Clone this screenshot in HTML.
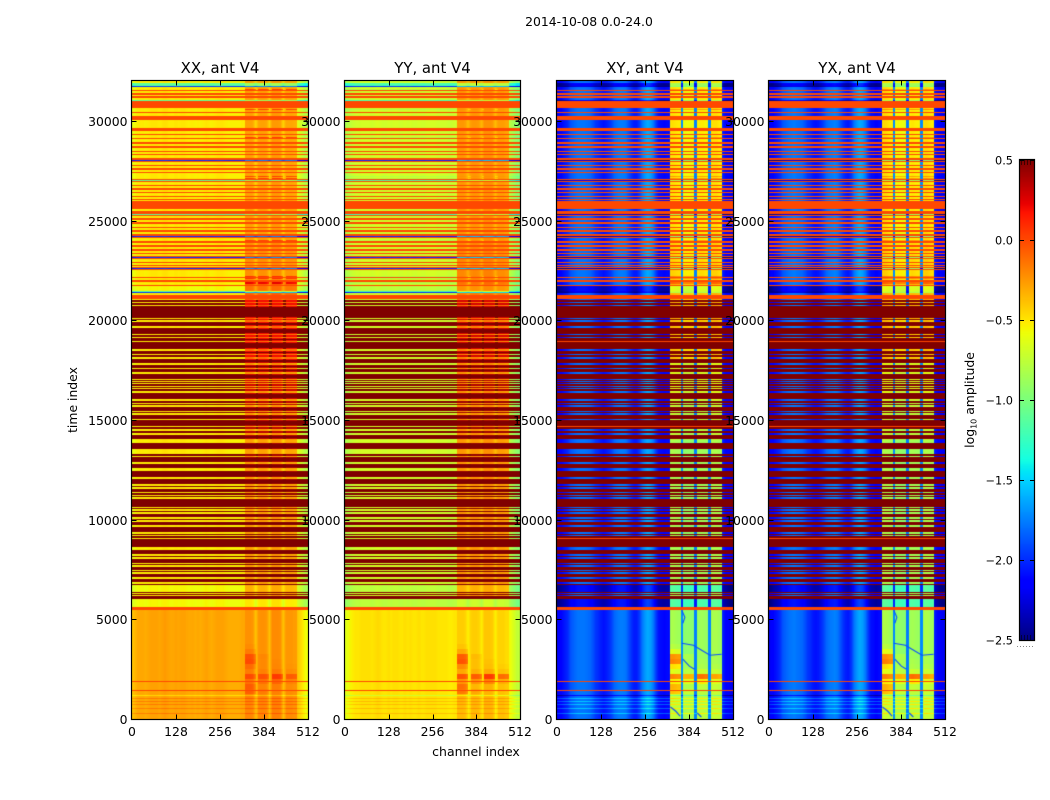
<!DOCTYPE html>
<html lang="en">
<head>
<meta charset="utf-8">
<title>2014-10-08 0.0-24.0</title>
<style>
html,body{margin:0;padding:0;background:#fff;}
#figure{position:relative;width:1050px;height:800px;background:#fff;overflow:hidden;}
canvas{position:absolute;display:block;}
#overlay{position:absolute;left:0;top:0;}
text{font-family:"DejaVu Sans","Liberation Sans",sans-serif;fill:#000;}
</style>
</head>
<body>
<div id="figure">
<svg id="overlay" width="1050" height="800" viewBox="0 0 1050 800">
<text x="589" y="26" font-size="12.4" text-anchor="middle">2014-10-08 0.0-24.0</text>
<text x="476" y="756" font-size="12.5" text-anchor="middle">channel index</text>
<text transform="translate(77,400) rotate(-90)" font-size="12.4" text-anchor="middle">time index</text>
<text transform="translate(974,400) rotate(-90)" font-size="12.4" text-anchor="middle">log<tspan font-size="8" dy="2.5">10</tspan><tspan dy="-2.5"> amplitude</tspan></text>
</svg>
</div>
<script>
// ---- chart data ----
const polarizations = ["XX", "YY", "XY", "YX"];
const channelTicks = [0, 128, 256, 384, 512];
const timeTicks = [0, 5000, 10000, 15000, 20000, 25000, 30000];
const colorbarTicks = [0.5, 0.0, -0.5, -1.0, -1.5, -2.0, -2.5];
const channelMax = [512];
const timeMax = [32000];
const colorRange = [-2.5, 0.5];

// log10 amplitude per 8-channel cell
const xxProfile = [-.62,-.58,-.53,-.52,-.52,-.54,-.52,-.5,-.5,-.5,-.52,-.5,-.48,-.5,-.52,-.52,-.5,-.52,-.5,-.5,-.52,-.53,-.52,-.54,-.52,-.54,-.52,-.5,-.52,-.54,-.52,-.5,-.5,-.5,-.52,-.54,-.54,-.54,-.54,-.54,-.52,-.28,-.28,-.28,-.3,-.45,-.3,-.28,-.28,-.3,-.43,-.26,-.26,-.26,-.28,-.45,-.3,-.3,-.3,-.32,-.6,-.66,-.72,-.8];
const yyProfile = [-.95,-.9,-.85,-.82,-.8,-.8,-.78,-.78,-.78,-.78,-.8,-.78,-.76,-.78,-.8,-.8,-.78,-.8,-.78,-.78,-.8,-.8,-.78,-.8,-.78,-.8,-.8,-.78,-.8,-.8,-.78,-.78,-.78,-.78,-.8,-.8,-.8,-.8,-.82,-.82,-.8,-.35,-.35,-.35,-.37,-.47,-.37,-.35,-.35,-.37,-.46,-.33,-.33,-.33,-.35,-.47,-.37,-.37,-.37,-.4,-.85,-.92,-.98,-1.05];
const xyProfile = [-2.2,-2.15,-2.1,-2.05,-2,-1.88,-1.84,-1.8,-1.78,-1.78,-1.78,-1.8,-1.82,-1.88,-1.96,-2,-2.05,-2.08,-2.05,-2,-1.92,-1.82,-1.78,-1.76,-1.76,-1.78,-1.88,-1.98,-2.05,-2.05,-1.95,-1.78,-1.68,-1.62,-1.66,-1.76,-1.95,-2.08,-2.1,-2.12,-2.1,-.85,-.83,-.85,-.87,-1.7,-.95,-.93,-.93,-.95,-1.75,-.9,-.87,-.87,-.9,-1.72,-.85,-.83,-.83,-.87,-2,-2.1,-2.15,-2.2];
const yxProfile = [-2.22,-2.16,-2.1,-2.06,-2,-1.88,-1.84,-1.8,-1.78,-1.76,-1.78,-1.8,-1.82,-1.88,-1.96,-2,-2.06,-2.08,-2.06,-2,-1.92,-1.82,-1.78,-1.76,-1.74,-1.78,-1.88,-1.98,-2.04,-2.06,-1.96,-1.78,-1.68,-1.62,-1.66,-1.76,-1.94,-2.08,-2.1,-2.14,-2.1,-.83,-.81,-.83,-.87,-1.72,-.95,-.91,-.93,-.95,-1.76,-.89,-.85,-.87,-.89,-1.72,-.85,-.81,-.83,-.87,-2.02,-2.1,-2.16,-2.2];

// drift of the bright sub-band per 2000 time indices (t = 0, 2000, ... 32000)
const xxBandDrift = [-.17,-.17,-.17,0,0,0,0,0,.02,.15,.2,.05,0,0,0,0,0];
const yyBandDrift = [-.37,-.37,-.37,0,0,0,0,0,0,.05,.1,.05,0,0,0,0,0];
const xyBandDrift = [0,0,0,0,0,0,0,.1,.2,.45,.5,.4,.35,.35,.35,.35,.35];
const yxBandDrift = [0,0,0,0,0,0,0,.1,.2,.45,.5,.4,.35,.35,.35,.35,.35];

// smeared level of saturated rows next to data rows inside the sub-bands, parallel hands
const xxDarkBand = [.5,.5,.5,.5,.5,.45,.4,.35,.3,.2,.2,.5,.5,.5,.5,.5,.5];
const yyDarkBand = [.5,.5,.5,.5,.5,.5,.45,.42,.38,.28,.28,.5,.5,.5,.5,.5,.5];

// extra brightness of each sub-band per 250 time indices at early times
const band1Boost = [.1,.1,.1,.12,.15,.45,.5,.3,.65,.2,.35,.65,.6,.2,.05,0];
const band2Boost = [.1,.1,.12,.12,.12,.2,.12,.3,.6,.15,.08,.08,.1,0,0,0];
const band3Boost = [.1,.1,.1,.1,.1,.1,.12,.35,.75,.15,.05,.03,0,0,0,0];
const band4Boost = [.1,.1,.1,.1,.1,.1,.1,.2,.55,.1,.03,0,0,0,0,0];
const boostScale = [.35, .6, 1, 1];

// per-row state, newest time first: state letter + number of rows
const rowRuns = ("n2 c3 b1 n2 r1 o1 n2 o2 n1 o2 n2 c1 o7 n1 r1 n2 o1 n3 o4 n8 o2 " +
"o1 n3 o1 n2 r1 o1 n3 o2 n2 o2 n3 o1 n2 o1 n3 o2 b1 o1 n3 o1 n2 o2 n2 o1 n3 r1 n1 r1 o1 c1 o1 n3 o1 n2 o2 n2 o1 n3 o1 n2 o1 n1 " +
"o8 n2 o3 c1 o1 n2 o2 n2 o2 n3 o1 n2 o2 n2 o2 b1 o1 n2 r1 o2 n2 o2 n2 o2 n2 o1 n2 o1 b1 o1 n3 o1 n2 o1 n1 o1 b1 o1 n6 r1 o1 r1 n1 o2 r2 n1 o1 m5 c1 b1 n2 o4 n1 " +
"d2 n1 d2 n1 d12 n1 d1 n2 d4 n2 d6 n1 d2 n1 d3 y1 d7 n2 d3 n1 d2 n2 d4 n2 d3 n1 d3 n2 d5 n1 d1 n1 d1 n1 d2 n1 d1 n1 d2 n2 d6 n2 d2 n1 d1 n2 d4 n1 d1 n2 d4 n1 d6 y1 d2 n2 d2 n2 d4 n4 d6 n5 d2 n1 d5 n2 d4 n3 d6 n2 d5 n2 d1 n2 d3 n1 d2 n1 d1 n2 d8 n1 d1 n2 d1 n2 d3 n2 d1 n2 d3 n2 d5 n2 d1 n1 d2 y1 d8 n3 d4 n2 d1 n2 d4 n1 d1 n2 d3 n1 d1 n2 d3 n2 d3 n2 d1 m7 d1 n1 d1 n1 d3 m8 o3 " +
"e71 o1 e8 o1 e4 g1 e2 s1 e2 s1 e2 s1 e3 s1 e4 s1 e5").split(" ");

// levels of saturated rows, in polarization order; null keeps the data value
const levelO = [0, 0, 0, 0];
const levelD = [.5, .5, .5, .5];
const levelY = [null, null, 0, 0];
// offsets of data rows, in polarization order
const offsetN = [0, .1, 0, 0];
const offsetM = [-.05, .02, -.3, -.3];
const offsetR = [.3, .12, .25, .25];
const offsetC = [-.6, -.4, -.35, -.35];
const offsetB = [-1.45, -1.2, -.45, -.45];
const offsetE = [.22, .3, 0, 0];
const offsetS = [.35, .42, .25, .25];
const offsetG = [.05, .1, -.3, -.3];

// dark fringe curves in the cross-hands: [channel, time index]
const fringeA = [[363,3800],[397,3700],[411,3550],[445,3200],[479,3250]];
const fringeB = [[363,5450],[372,5100],[366,4800]];
const fringeC = [[366,3000],[385,2650],[400,2500]];
const fringeD = [[330,600],[345,400],[358,150]];
const fringeE = [[408,300],[420,100]];

// ---- layout ----
const panelLefts = [132, 345, 557, 769];
const panelWidths = [176, 175, 176, 176];
const panelTop = 81, panelH = 638;
const cbLeft = 1020, cbTop = 160, cbW = 14, cbH = 480;

const profiles = [xxProfile, yyProfile, xyProfile, yxProfile];
const drifts = [xxBandDrift, yyBandDrift, xyBandDrift, yxBandDrift];
const darkBands = [xxDarkBand, yyDarkBand];
const boosts = [band1Boost, band2Boost, band3Boost, band4Boost];
const fixedLevels = {o: levelO, d: levelD, y: levelY};
const rowOffsets = {n: offsetN, m: offsetM, r: offsetR, c: offsetC, b: offsetB, e: offsetE, s: offsetS, g: offsetG};

const rowStates = [];
rowRuns.forEach(function (run) {
  const n = parseInt(run.slice(1), 10);
  for (let i = 0; i < n; i++) rowStates.push(run[0]);
});

function xScale(panel, ch) { return panelLefts[panel] + ch / channelMax[0] * panelWidths[panel]; }
function yScale(t) { return panelTop + panelH - t / timeMax[0] * panelH; }
function cbScale(v) { return cbTop + (colorRange[1] - v) / (colorRange[1] - colorRange[0]) * cbH; }

function piece(x, pts) {
  for (let i = 1; i < pts.length; i++) {
    if (x <= pts[i][0]) {
      const a = pts[i - 1], b = pts[i];
      return a[1] + (b[1] - a[1]) * (x - a[0]) / (b[0] - a[0]);
    }
  }
  return pts[pts.length - 1][1];
}
const jetR = [[0,0],[.35,0],[.66,1],[.89,1],[1,.5]];
const jetG = [[0,0],[.125,0],[.375,1],[.64,1],[.91,0],[1,0]];
const jetB = [[0,.5],[.11,1],[.34,1],[.65,0],[1,0]];
function jet(v) {
  let f = (v - colorRange[0]) / (colorRange[1] - colorRange[0]);
  f = Math.max(0, Math.min(1, f));
  return [piece(f, jetR) * 255, piece(f, jetG) * 255, piece(f, jetB) * 255];
}

function inBand(ch) {
  return ch >= 328 && ch < 480 && (ch - 328) % 40 < 32;
}
function baseValue(p, ch) {
  const prof = profiles[p];
  const pos = ch / 8;
  const i = Math.min(prof.length - 1, Math.floor(pos));
  const j = Math.min(prof.length - 1, i + 1);
  if (Math.abs(prof[i] - prof[j]) < 0.2) return prof[i] + (prof[j] - prof[i]) * (pos - i);
  return prof[i];
}
function cellValue(p, r, ch, t) {
  const state = rowStates[r];
  const cell = Math.min(profiles[p].length - 1, Math.floor(ch / 8)) * 8;
  const band = inBand(cell);
  const k = Math.min(drifts[p].length - 1, Math.floor(t / 2000));
  if (state === "d" && band && p < 2 && (rowStates[r - 1] !== "d" || rowStates[r + 1] !== "d")) {
    return darkBands[p][k];
  }
  const fixed = fixedLevels[state];
  if (fixed && fixed[p] !== null) return fixed[p];
  let v = baseValue(p, ch);
  const raw = profiles[p][cell / 8];
  const offs = rowOffsets[state] || offsetN;
  if (state !== "r" || band) v += offs[p];
  if (band || (p < 2 && cell >= 328 && cell < 480)) {
    if (p < 2 || raw > -1.4) v += drifts[p][k];
  }
  if (band && (state === "e" || state === "s" || state === "g")) {
    const tb = Math.floor(t / 250);
    const which = Math.floor((cell - 328) / 40);
    const series = boosts[which];
    if (tb < series.length) v += series[tb] * boostScale[p];
  }
  return v;
}

const figure = document.getElementById("figure");
const overlay = document.getElementById("overlay");
const NS = "http://www.w3.org/2000/svg";

function drawHeatmap(p) {
  const W = panelWidths[p];
  const cv = document.createElement("canvas");
  
  
  cv.width = W;
  cv.height = panelH;
  cv.style.left = panelLefts[p] + "px";
  cv.style.top = panelTop + "px";
  const ctx = cv.getContext("2d");
  const img = ctx.createImageData(W, panelH);
  const rowStep = timeMax[0] / rowStates.length;
  for (let r = 0; r < rowStates.length; r++) {
    const t = timeMax[0] - (r + 0.5) * rowStep;
    const y0 = Math.round(yScale(t + rowStep / 2) - panelTop);
    const y1 = Math.round(yScale(t - rowStep / 2) - panelTop);
    for (let px = 0; px < W; px++) {
      const ch = (px + 0.5) / W * channelMax[0];
      const c = jet(cellValue(p, r, ch, t));
      for (let y = y0; y < y1 && y < panelH; y++) {
        const o = (y * W + px) * 4;
        img.data[o] = c[0];
        img.data[o + 1] = c[1];
        img.data[o + 2] = c[2];
        img.data[o + 3] = 255;
      }
    }
  }
  ctx.putImageData(img, 0, 0);
  if (p >= 2) {
    [fringeA, fringeB, fringeC, fringeD, fringeE].forEach(function (curve) {
      ctx.beginPath();
      curve.forEach(function (pt, i) {
        const x = xScale(p, pt[0]) - panelLefts[p];
        const y = yScale(pt[1]) - panelTop;
        if (i) ctx.lineTo(x, y); else ctx.moveTo(x, y);
      });
      ctx.strokeStyle = "#0a50ff";
      ctx.lineWidth = 1.1;
      ctx.stroke();
    });
  }
  figure.insertBefore(cv, overlay);
}

function svgLine(parent, x1, y1, x2, y2) {
  const l = document.createElementNS(NS, "line");
  l.setAttribute("x1", x1);
  l.setAttribute("y1", y1);
  l.setAttribute("x2", x2);
  l.setAttribute("y2", y2);
  l.setAttribute("stroke", "#000");
  l.setAttribute("stroke-width", "1");
  parent.appendChild(l);
  return l;
}
function svgText(parent, x, y, s, anchor, size) {
  const t = document.createElementNS(NS, "text");
  t.setAttribute("x", x);
  t.setAttribute("y", y);
  t.setAttribute("text-anchor", anchor);
  t.setAttribute("font-size", size);
  t.textContent = s;
  parent.appendChild(t);
  return t;
}

function drawAxes(p) {
  const name = polarizations[p].toLowerCase();
  const g = document.createElementNS(NS, "g");
  
  
  overlay.appendChild(g);
  const left = panelLefts[p] - 0.5, right = panelLefts[p] + panelWidths[p] + 0.5;
  const top = panelTop - 0.5, bottom = panelTop + panelH + 0.5;

  const frame = document.createElementNS(NS, "rect");
  
  
  frame.setAttribute("x", left);
  frame.setAttribute("y", top);
  frame.setAttribute("width", right - left);
  frame.setAttribute("height", bottom - top);
  frame.setAttribute("fill", "none");
  frame.setAttribute("stroke", "#000");
  frame.setAttribute("stroke-width", "1.2");
  g.appendChild(frame);

  const title = svgText(g, (left + right) / 2, 73, polarizations[p] + ", ant V4", "middle", 14.9);
  
  

  channelTicks.forEach(function (ch) {
    const x = Math.round(xScale(p, ch)) + 0.5 - (ch === 0 ? 1 : 0);
    const t1 = svgLine(g, x, bottom, x, bottom - 5);
    
    
    const t2 = svgLine(g, x, top, x, top + 5);
    
    
    const lab = svgText(g, xScale(p, ch), 736, String(ch), "middle", 12.4);
    
    
  });
  timeTicks.forEach(function (tv) {
    const y = Math.round(yScale(tv)) + 0.5;
    const t1 = svgLine(g, left, y, left + 5, y);
    
    
    const t2 = svgLine(g, right, y, right - 5, y);
    
    
    const lab = svgText(g, left - 4, y + 4.5, String(tv), "end", 12.4);
    
    
  });
}

function drawColorbar() {
  const cv = document.createElement("canvas");
  
  
  cv.width = cbW;
  cv.height = cbH;
  cv.style.left = cbLeft + "px";
  cv.style.top = cbTop + "px";
  const ctx = cv.getContext("2d");
  for (let y = 0; y < cbH; y++) {
    const v = colorRange[1] - (y + 0.5) / cbH * (colorRange[1] - colorRange[0]);
    const c = jet(v);
    ctx.fillStyle = "rgb(" + Math.round(c[0]) + "," + Math.round(c[1]) + "," + Math.round(c[2]) + ")";
    ctx.fillRect(0, y, cbW, 1);
  }
  figure.insertBefore(cv, overlay);

  const g = document.createElementNS(NS, "g");
  
  
  overlay.appendChild(g);
  const frame = document.createElementNS(NS, "rect");
  
  
  frame.setAttribute("x", cbLeft - 0.5);
  frame.setAttribute("y", cbTop - 0.5);
  frame.setAttribute("width", cbW + 1);
  frame.setAttribute("height", cbH + 1);
  frame.setAttribute("fill", "none");
  frame.setAttribute("stroke", "#000");
  frame.setAttribute("stroke-width", "1.2");
  g.appendChild(frame);
  colorbarTicks.forEach(function (v) {
    const y = Math.round(cbScale(v)) + 0.5;
    const t1 = svgLine(g, cbLeft, y, cbLeft + 4, y);
    
    
    const t2 = svgLine(g, cbLeft + cbW, y, cbLeft + cbW - 4, y);
    
    
    const s = v.toFixed(1).replace("-", "\u2212");
    const lab = svgText(g, cbLeft - 7, y + 4, s, "end", 11.3);
    
    
  });
  for (let x = cbLeft + 1; x < cbLeft + cbW - 1; x += 3) {
    const a = svgLine(g, x + 0.5, cbTop, x + 0.5, cbTop + 5);
    
    
    a.setAttribute("stroke-opacity", "0.55");
    const b = svgLine(g, x + 0.5, cbTop + cbH, x + 0.5, cbTop + cbH - 5);
    
    
    b.setAttribute("stroke-opacity", "0.55");
  }
  const dots = svgLine(g, cbLeft - 3, 646.5, cbLeft + cbW, 646.5);
  
  
  dots.setAttribute("stroke", "#888");
  dots.setAttribute("stroke-dasharray", "1 2");
}

for (let p = 0; p < polarizations.length; p++) drawHeatmap(p);
for (let p = 0; p < polarizations.length; p++) drawAxes(p);
drawColorbar();
</script>
</body>
</html>
